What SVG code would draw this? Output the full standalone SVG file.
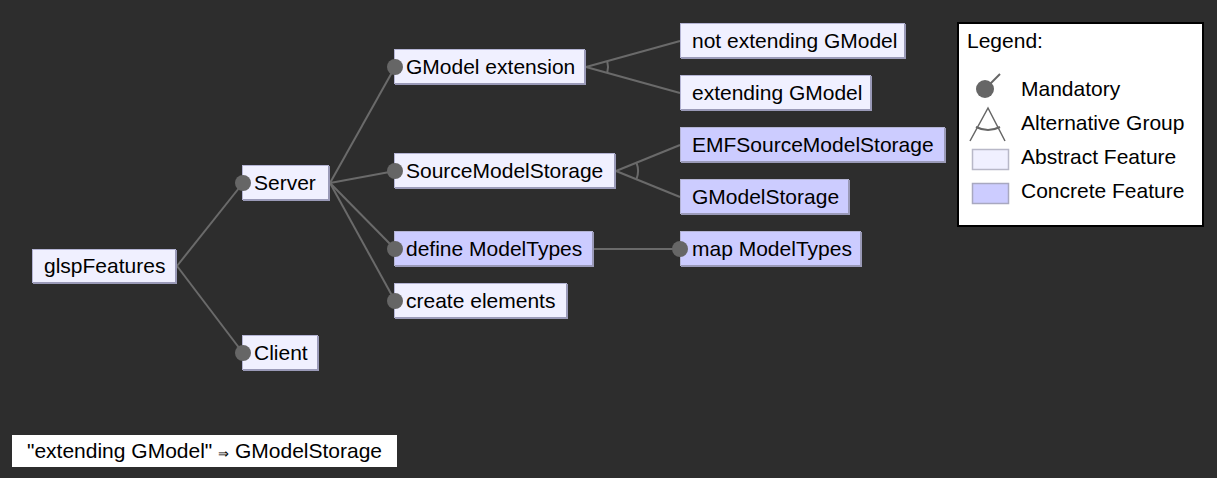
<svg xmlns="http://www.w3.org/2000/svg" width="1217" height="478" viewBox="0 0 1217 478">
<style>
text{font-family:"Liberation Sans",Arial,sans-serif;font-size:21px;fill:#000}
.abs{fill:#f0f0ff;stroke:#b4b4d4;stroke-width:1}
.con{fill:#ccccff;stroke:#b4b4d4;stroke-width:1}
.sh{fill:none;stroke:#9a9ab8;stroke-width:2}
.edge{stroke:#6a6a6a;stroke-width:2;fill:none}
.dot{fill:#666}
</style>
<rect width="1217" height="478" fill="#2d2d2d"/>
<g id="connectors">
<line class="edge" x1="177" y1="266" x2="243" y2="183"/>
<line class="edge" x1="177" y1="266" x2="243" y2="353"/>
<line class="edge" x1="330" y1="183" x2="395" y2="67"/>
<line class="edge" x1="330" y1="183" x2="395" y2="171"/>
<line class="edge" x1="330" y1="183" x2="395" y2="249"/>
<line class="edge" x1="330" y1="183" x2="395" y2="301"/>
<line class="edge" x1="586" y1="67" x2="680" y2="41"/>
<line class="edge" x1="586" y1="67" x2="680" y2="93"/>
<path class="edge" d="M607.2 61.1 A22 22 0 0 1 607.2 72.9"/>
<line class="edge" x1="616" y1="171" x2="680" y2="145"/>
<line class="edge" x1="616" y1="171" x2="680" y2="197"/>
<path class="edge" d="M636.4 162.7 A22 22 0 0 1 636.4 179.3"/>
<line class="edge" x1="594" y1="249" x2="680" y2="249"/>
</g>
<g id="glspFeatures"><rect class="abs" x="32.5" y="249.5" width="143" height="33"/><polyline class="sh" points="33,283 176,283 176,250"/><text x="44" y="273">glspFeatures</text></g>
<g id="Server"><rect class="abs" x="242.5" y="165.5" width="86" height="34"/><polyline class="sh" points="243,200 329,200 329,166"/><circle class="dot" cx="243" cy="183" r="8"/><text x="254" y="190">Server</text></g>
<g id="Client"><rect class="abs" x="242.5" y="335.5" width="75" height="34"/><polyline class="sh" points="243,370 318,370 318,336"/><circle class="dot" cx="243" cy="353" r="8"/><text x="254" y="360">Client</text></g>
<g id="GModelExtension"><rect class="abs" x="394.5" y="49.5" width="190" height="34"/><polyline class="sh" points="395,84 585,84 585,50"/><circle class="dot" cx="395" cy="67" r="8"/><text x="406" y="74">GModel extension</text></g>
<g id="SourceModelStorage"><rect class="abs" x="394.5" y="153.5" width="220" height="34"/><polyline class="sh" points="395,188 615,188 615,154"/><circle class="dot" cx="395" cy="171" r="8"/><text x="406" y="178">SourceModelStorage</text></g>
<g id="defineModelTypes"><rect class="con" x="394.5" y="231.5" width="198" height="34"/><polyline class="sh" points="395,266 593,266 593,232"/><circle class="dot" cx="395" cy="249" r="8"/><text x="406" y="256">define ModelTypes</text></g>
<g id="createElements"><rect class="abs" x="394.5" y="283.5" width="172" height="34"/><polyline class="sh" points="395,318 567,318 567,284"/><circle class="dot" cx="395" cy="301" r="8"/><text x="406" y="308">create elements</text></g>
<g id="notExtendingGModel"><rect class="abs" x="680.5" y="23.5" width="224" height="34"/><polyline class="sh" points="681,58 905,58 905,24"/><text x="692" y="48">not extending GModel</text></g>
<g id="extendingGModel"><rect class="abs" x="680.5" y="75.5" width="190" height="34"/><polyline class="sh" points="681,110 871,110 871,76"/><text x="692" y="100">extending GModel</text></g>
<g id="EMFSourceModelStorage"><rect class="con" x="680.5" y="127.5" width="264" height="34"/><polyline class="sh" points="681,162 945,162 945,128"/><text x="692" y="152">EMFSourceModelStorage</text></g>
<g id="GModelStorage"><rect class="con" x="680.5" y="179.5" width="168" height="34"/><polyline class="sh" points="681,214 849,214 849,180"/><text x="692" y="204">GModelStorage</text></g>
<g id="mapModelTypes"><rect class="con" x="680.5" y="231.5" width="180" height="34"/><polyline class="sh" points="681,266 861,266 861,232"/><circle class="dot" cx="680" cy="249" r="8"/><text x="692" y="256">map ModelTypes</text></g>
<g id="legend">
<rect x="958" y="23" width="245" height="203" fill="#fff" stroke="#000" stroke-width="2"/>
<text x="967" y="48">Legend:</text>
<line x1="985" y1="89" x2="1000" y2="74" stroke="#666" stroke-width="2"/>
<circle cx="985" cy="89" r="9" fill="#666"/>
<text x="1021" y="96">Mandatory</text>
<polyline points="970,141 988,108 1005,141" fill="none" stroke="#666" stroke-width="1.5"/>
<path d="M976 127 Q988 133 1000 127" fill="none" stroke="#666" stroke-width="2"/>
<text x="1021" y="130">Alternative Group</text>
<rect x="972.5" y="149.5" width="36" height="20" fill="#f0f0ff" stroke="#b8b8c8" stroke-width="1.5"/>
<text x="1021" y="164">Abstract Feature</text>
<rect x="972.5" y="183.5" width="36" height="20" fill="#ccccff" stroke="#a8a8c0" stroke-width="1.5"/>
<text x="1021" y="198">Concrete Feature</text>
</g>
<g id="constraint">
<rect x="12" y="435" width="385" height="32" fill="#fff"/>
<text x="204.5" y="458" text-anchor="middle">"extending GModel" <tspan font-size="13">⇒</tspan> GModelStorage</text>
</g>
</svg>
